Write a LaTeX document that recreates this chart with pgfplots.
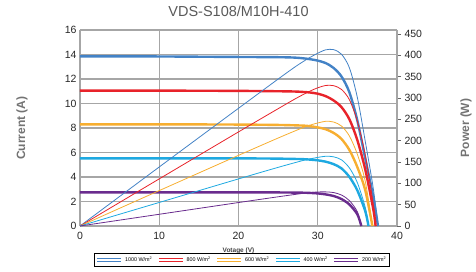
\documentclass[border=0pt]{standalone}
\usepackage{pgfplots}
\pgfplotsset{compat=1.18}
\usepackage{fontspec}
\setmainfont{Liberation Sans}
\definecolor{cA}{HTML}{4382C6}
\definecolor{cB}{HTML}{E8232A}
\definecolor{cC}{HTML}{F7AE30}
\definecolor{cD}{HTML}{1EA9E1}
\definecolor{cE}{HTML}{6A2C8E}
\definecolor{gridg}{HTML}{A6A6A6}
\definecolor{txtg}{HTML}{595959}
\begin{document}
\begin{tikzpicture}
\useasboundingbox (-80pt,-45pt) rectangle (396pt,226pt);
\begin{axis}[
  at={(0pt,0pt)}, anchor=south west, scale only axis,
  width=317pt, height=196pt,
  xmin=0, xmax=40, ymin=0, ymax=16,
  xtick={0,10,20,30,40}, ytick={0,2,...,16},
  grid=major, grid style={line width=1.1pt, color=gridg},
  axis line style={line width=1.1pt, color=gridg},
  axis y line*=left,
  tick style={draw=none},
  /pgf/number format/assume math mode=true,
  ticklabel style={font=\fontsize{10.5}{12}\selectfont, text=black!85},
  xticklabel style={yshift=-3pt},
  title={VDS-S108/M10H-410},
  title style={at={(0.5,1)}, anchor=base, yshift=8pt, font=\fontsize{14.5}{16}\selectfont, text=txtg},
  ylabel={Current (A)},
  ylabel style={at={(axis description cs:-0.183,0.5)}, anchor=center, font=\bfseries\fontsize{12}{14}\selectfont, text=black!55},
  xlabel={Votage (V)},
  xlabel style={at={(axis description cs:0.5,-0.125)}, anchor=center, font=\bfseries\fontsize{6.5}{7}\selectfont, text=black!75},
  legend columns=5,
  legend style={at={(0.511,0)}, anchor=north, yshift=-27pt, draw=black, line width=0.6pt,
    font=\fontsize{5.4}{6}\selectfont, inner sep=1.5pt,
    /tikz/every even column/.append style={column sep=3pt}},
  legend image code/.code={\draw[#1, line width=1pt, double=white, double distance=1.3pt] (0pt,0pt) -- (24pt,0pt);},
]
\addplot[cA, line width=2.4pt, smooth] coordinates {(0,13.85)(5,13.85)(10,13.84)(15,13.82)(20,13.8)(25,13.78)(27,13.75)(28,13.7)(29,13.62)(30,13.5)(31,13.3)(32,12.9)(33,12.2)(34,10.9)(35,8.6)(36,5.5)(37,2.4)(37.6,0)};
\addlegendentry{1000 W/m\textsuperscript{2}}
\addplot[cB, line width=2.4pt, smooth] coordinates {(0,11.05)(10,11.05)(20,11.03)(25,11.0)(27,10.98)(28,10.95)(29,10.9)(30,10.8)(31,10.6)(32,10.25)(33,9.7)(34,8.7)(35,7.0)(36,4.6)(37,1.4)(37.3,0)};
\addlegendentry{800 W/m\textsuperscript{2}}
\addplot[cC, line width=2.4pt, smooth] coordinates {(0,8.3)(10,8.3)(20,8.28)(25,8.25)(28,8.2)(29,8.15)(30,8.05)(31,7.9)(32,7.6)(33,7.1)(34,6.2)(35,4.8)(36,2.9)(36.9,0)};
\addlegendentry{600 W/m\textsuperscript{2}}
\addplot[cD, line width=2.4pt, smooth] coordinates {(0,5.52)(10,5.52)(20,5.52)(25,5.5)(28,5.46)(29,5.42)(30,5.36)(31,5.25)(32,5.05)(33,4.7)(34,4.0)(35,2.9)(36,1.2)(36.4,0)};
\addlegendentry{400 W/m\textsuperscript{2}}
\addplot[cE, line width=2.4pt, smooth] coordinates {(0,2.75)(10,2.75)(20,2.75)(25,2.74)(28,2.72)(29,2.7)(30,2.66)(31,2.58)(32,2.45)(33,2.2)(34,1.75)(35,0.95)(35.5,0)};
\addlegendentry{200 W/m\textsuperscript{2}}
\end{axis}
\begin{axis}[
  at={(0pt,0pt)}, anchor=south west, scale only axis,
  width=317pt, height=196pt,
  xmin=0, xmax=40, ymin=0, ymax=459.5,
  axis x line=none, axis y line*=right,
  axis line style={line width=1.1pt, color=gridg},
  ytick={0,50,...,450},
  tick align=outside, major tick length=4pt,
  ytick style={draw=black!60, line width=0.6pt},
  /pgf/number format/assume math mode=true,
  ticklabel style={font=\fontsize{10.5}{12}\selectfont, text=black!85},
  every axis y label/.style={at={(axis description cs:1.218,0.5)}, anchor=center, rotate=90, font=\bfseries\fontsize{12}{14}\selectfont, text=black!55},
  ylabel={Power (W)},
]
\addplot[cA, line width=0.8pt, smooth] coordinates {(0,0)(5,69.25)(10,138.4)(15,207.3)(20,276)(25,344.5)(27,371.25)(28,383.6)(29,395)(30,405)(31,413)(32,413.5)(33,402.6)(34,370.6)(35,301)(36,198)(37,88.8)(37.6,0)};
\addplot[cB, line width=0.8pt, smooth] coordinates {(0,0)(10,110.5)(20,220.6)(25,275)(27,296.5)(28,306.6)(29,316.1)(30,324)(31,329.5)(32,329)(33,320.1)(34,295.8)(35,245)(36,165.6)(37,51.8)(37.3,0)};
\addplot[cC, line width=0.8pt, smooth] coordinates {(0,0)(10,83)(20,165.6)(25,206.25)(28,229.6)(29,236.35)(30,241.5)(31,245.5)(32,243.8)(33,234.3)(34,210.8)(35,168)(36,104.4)(36.9,0)};
\addplot[cD, line width=0.8pt, smooth] coordinates {(0,0)(10,55.2)(20,110.4)(25,137.5)(28,152.9)(29,157.2)(30,160.8)(31,163.5)(32,162.2)(33,155.1)(34,136)(35,101.5)(36,43.2)(36.4,0)};
\addplot[cE, line width=0.8pt, smooth] coordinates {(0,0)(10,27.5)(20,55)(25,68.5)(28,76.2)(29,78.3)(30,79.8)(31,80)(32,78.4)(33,72.6)(34,59.5)(35,33.25)(35.5,0)};
\end{axis}
\end{tikzpicture}
\end{document}
